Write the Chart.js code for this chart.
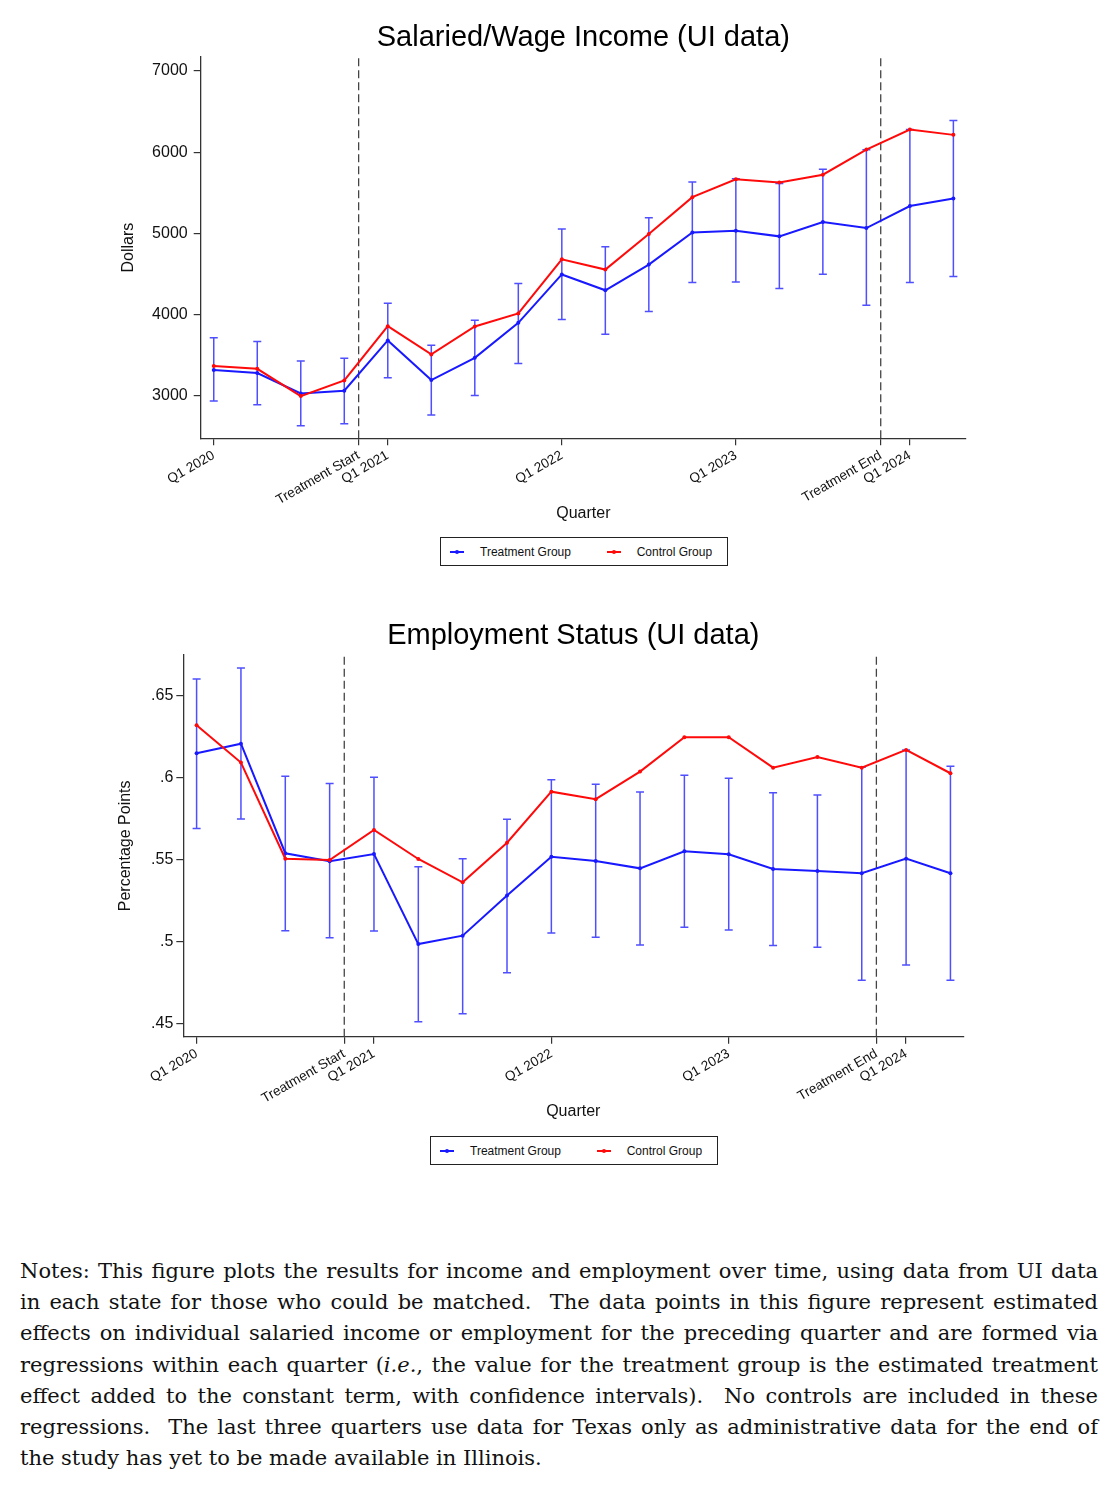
<!DOCTYPE html>
<html>
<head>
<meta charset="utf-8">
<script src="https://cdn.jsdelivr.net/npm/chart.js@4.4.1/dist/chart.umd.min.js"></script>
<style>
  body { margin: 0; background: #fff; }
  #page { position: relative; width: 1118px; height: 1487px; background: #fff; font-family: 'Liberation Sans', Arial, Helvetica, sans-serif; }
  .panel { position: absolute; left: 0; width: 1118px; height: 590px; }
  .legend { position: absolute; box-sizing: border-box; height: 29px; width: 288px; border: 1.3px solid #222; background: #fff; font-size: 12px; color: #111; }
  .legend .item { position: absolute; top: 0; height: 100%; display: flex; align-items: center; white-space: nowrap; }
  .legend .mark { position: relative; width: 14px; height: 2px; margin-right: 16px; }
  .legend .mark span { position: absolute; left: 5px; top: -1px; width: 4px; height: 4px; border-radius: 50%; }
  .notes { position: absolute; left: 20px; top: 1256px; width: 1078px; font-family: 'DejaVu Serif', 'Liberation Serif', serif; font-size: 21px; line-height: 31.2px; color: #111; }
  .notes div { text-align: justify; text-align-last: justify; }
  .notes div.last { text-align-last: left; }
</style>
</head>
<body>
<div id="page">
  <div class="panel" style="top:0"><canvas id="income" width="1118" height="590"></canvas></div>
  <div class="legend" id="legend-income" style="left:440px; top:537px"></div>
  <div class="panel" style="top:600px"><canvas id="employment" width="1118" height="590"></canvas></div>
  <div class="legend" id="legend-employment" style="left:430px; top:1136px"></div>
  <div class="notes">
    <div>Notes: This figure plots the results for income and employment over time, using data from UI data</div>
    <div>in each state for those who could be matched.&nbsp; The data points in this figure represent estimated</div>
    <div>effects on individual salaried income or employment for the preceding quarter and are formed via</div>
    <div>regressions within each quarter (<i>i.e.</i>, the value for the treatment group is the estimated treatment</div>
    <div>effect added to the constant term, with confidence intervals).&nbsp; No controls are included in these</div>
    <div>regressions.&nbsp; The last three quarters use data for Texas only as administrative data for the end of</div>
    <div class="last">the study has yet to be made available in Illinois.</div>
  </div>
</div>
<script>
// quarters Q1 2020 .. Q2 2024, plotted at index 0..17
const quarters = ['Q1 2020', 'Q2 2020', 'Q3 2020', 'Q4 2020', 'Q1 2021', 'Q2 2021', 'Q3 2021', 'Q4 2021',
  'Q1 2022', 'Q2 2022', 'Q3 2022', 'Q4 2022', 'Q1 2023', 'Q2 2023', 'Q3 2023', 'Q4 2023', 'Q1 2024', 'Q2 2024'];

const xTickValues = [0, 3.33, 4, 8, 12, 15.33, 16];
const xTickLabels = ['Q1 2020', 'Treatment Start', 'Q1 2021', 'Q1 2022', 'Q1 2023', 'Treatment End', 'Q1 2024'];
const treatmentStart = 3.33;
const treatmentEnd = 15.33;

// income (dollars)
const incomeTreatment = [3316, 3279, 3029, 3062, 3681, 3193, 3467, 3898, 4494, 4299, 4615, 5012, 5033, 4963, 5139, 5065, 5336, 5430];
const incomeTreatmentLow = [2935, 2889, 2631, 2656, 3221, 2763, 3004, 3398, 3939, 3758, 4037, 4394, 4401, 4320, 4496, 4115, 4394, 4468];
const incomeTreatmentHigh = [3713, 3669, 3427, 3463, 4140, 3623, 3930, 4381, 5053, 4836, 5193, 5631, 5672, 5615, 5790, 6029, 6279, 6389];
const incomeControl = [3365, 3332, 2996, 3189, 3857, 3509, 3853, 4013, 4680, 4554, 4992, 5446, 5667, 5627, 5722, 6032, 6279, 6213];
const incomeTicks = [3000, 4000, 5000, 6000, 7000];
const incomeTickLabels = ['3000', '4000', '5000', '6000', '7000'];

// employment (share employed)
const empTreatment = [0.6147, 0.6205, 0.5538, 0.5489, 0.5533, 0.4985, 0.5036, 0.5280, 0.5517, 0.5491, 0.5446, 0.5550, 0.5532, 0.5442, 0.5430, 0.5416, 0.5505, 0.5416];
const empTreatmentLow = [0.5688, 0.5747, 0.5066, 0.5024, 0.5065, 0.4512, 0.4561, 0.4811, 0.5052, 0.5026, 0.4979, 0.5087, 0.5071, 0.4977, 0.4965, 0.4764, 0.4857, 0.4764];
const empTreatmentHigh = [0.6599, 0.6666, 0.6007, 0.5962, 0.6001, 0.5456, 0.5505, 0.5745, 0.5986, 0.5958, 0.5911, 0.6013, 0.5995, 0.5907, 0.5893, 0.6062, 0.6167, 0.6068];
const empControl = [0.6317, 0.6090, 0.5505, 0.5497, 0.5680, 0.5503, 0.5361, 0.5602, 0.5913, 0.5867, 0.6035, 0.6244, 0.6244, 0.6059, 0.6124, 0.6059, 0.6167, 0.6025];
const empTicks = [0.45, 0.5, 0.55, 0.6, 0.65];
const empTickLabels = ['.45', '.5', '.55', '.6', '.65'];

const BLUE = 'rgb(25,25,255)';
const RED = 'rgb(255,10,10)';
const AXIS = '#333';

Chart.defaults.font.family = "'Liberation Sans', Arial, Helvetica, sans-serif";
Chart.defaults.color = '#222';

// confidence intervals for the treatment group
const errorBars = {
  id: 'errorBars',
  beforeDatasetsDraw(chart, args, opts) {
    let { ctx, scales: { x, y } } = chart;
    ctx.save();
    ctx.strokeStyle = opts.color;
    ctx.lineWidth = 1.5;
    opts.low.forEach((lo, i) => {
      let px = x.getPixelForValue(i),
          top = y.getPixelForValue(opts.high[i]),
          bot = y.getPixelForValue(lo);
      ctx.beginPath();
      ctx.moveTo(px, top); ctx.lineTo(px, bot);
      ctx.moveTo(px - 4, top); ctx.lineTo(px + 4, top);
      ctx.moveTo(px - 4, bot); ctx.lineTo(px + 4, bot);
      ctx.stroke();
    });
    ctx.restore();
  }
};

const toPoints = values => values.map((v, i) => ({ x: i, y: v }));

const makePanel = (id, c) => {
  let vline = (xv) => ({
    label: '', data: [{ x: xv, y: c.yMin }, { x: xv, y: c.yMax }],
    borderColor: '#444', borderWidth: 1.3, borderDash: [8, 4], pointRadius: 0, order: 3
  });

  let data = {
    datasets: [
      { label: 'Control Group', data: toPoints(c.control), borderColor: RED, backgroundColor: RED,
        borderWidth: 2, pointRadius: 2, pointBorderWidth: 0, order: 1 },
      { label: 'Treatment Group', data: toPoints(c.treatment), borderColor: BLUE, backgroundColor: BLUE,
        borderWidth: 2, pointRadius: 2, pointBorderWidth: 0, order: 2 },
      vline(treatmentStart),
      vline(treatmentEnd)
    ]
  };

  let options = {
    responsive: false,
    animation: false,
    events: [],
    layout: { padding: { left: 0, top: 0, right: c.padRight, bottom: c.padBottom } },
    plugins: {
      legend: { display: false },
      tooltip: { enabled: false },
      title: {
        display: true, text: c.title, fullSize: false, color: '#000',
        font: { size: 29, weight: 'normal' },
        padding: { top: c.titleTop, bottom: c.titleBottom }
      },
      errorBars: { low: c.low, high: c.high, color: 'rgba(30,30,255,0.78)' }
    },
    scales: {
      x: {
        type: 'linear', min: -0.3, max: 17.29,
        afterBuildTicks: scale => { scale.ticks = xTickValues.map(v => ({ value: v })); },
        afterFit: scale => { scale.height = 90; },
        ticks: {
          autoSkip: false, minRotation: 30, maxRotation: 30, padding: 2,
          font: { size: 13.6 }, color: '#111',
          callback: (v, i) => xTickLabels[i]
        },
        grid: { drawOnChartArea: false, drawTicks: true, tickLength: 7, color: AXIS, lineWidth: 1.2 },
        border: { display: true, color: AXIS, width: 1.3 },
        title: { display: true, text: 'Quarter', font: { size: 16 }, color: '#111', padding: { top: 0, bottom: c.xTitleBottom } }
      },
      y: {
        type: 'linear', min: c.yMin, max: c.yMax,
        afterBuildTicks: scale => { scale.ticks = c.yTicks.map(v => ({ value: v })); },
        afterFit: scale => { scale.width = c.yWidth; },
        ticks: { font: { size: 16 }, color: '#111', padding: c.yTickPad, callback: (v, i) => c.yTickLabels[i] },
        grid: { drawOnChartArea: false, drawTicks: true, tickLength: 7, color: AXIS, lineWidth: 1.2 },
        border: { display: true, color: AXIS, width: 1.3 },
        title: { display: true, text: c.yTitle, font: { size: 16 }, color: '#111', padding: { top: c.yTitleLeft, bottom: 0 } }
      }
    }
  };

  let chart = new Chart(id, { type: 'line', plugins: [errorBars], data, options });

  // boxed legend under the axis title, built from the datasets
  let legend = document.getElementById('legend-' + id);
  let lefts = [9, 165.7];
  ['Treatment Group', 'Control Group'].forEach((name, k) => {
    let ds = data.datasets.find(d => d.label === name);
    let item = document.createElement('div');
    item.className = 'item';
    item.style.left = lefts[k] + 'px';
    item.innerHTML = '<div class="mark" style="background:' + ds.borderColor + '"><span style="background:' +
      ds.borderColor + '"></span></div>' + name;
    legend.appendChild(item);
  });
  return chart;
};

makePanel('income', {
  title: 'Salaried/Wage Income (UI data)', yTitle: 'Dollars',
  treatment: incomeTreatment, low: incomeTreatmentLow, high: incomeTreatmentHigh, control: incomeControl,
  yMin: 2476, yMax: 7172, yTicks: incomeTicks, yTickLabels: incomeTickLabels,
  yWidth: 200.7, yTickPad: 6, yTitleLeft: 118.7,
  padRight: 152, padBottom: 61.7, titleTop: 20.9, titleBottom: 1.3, xTitleBottom: 4.7
});

makePanel('employment', {
  title: 'Employment Status (UI data)', yTitle: 'Percentage Points',
  treatment: empTreatment, low: empTreatmentLow, high: empTreatmentHigh, control: empControl,
  yMin: 0.4421, yMax: 0.6745, yTicks: empTicks, yTickLabels: empTickLabels,
  yWidth: 183.3, yTickPad: 3, yTitleLeft: 116.4,
  padRight: 154.7, padBottom: 63.3, titleTop: 18.6, titleBottom: 1.6, xTitleBottom: 5.1
});
</script>
</body>
</html>
